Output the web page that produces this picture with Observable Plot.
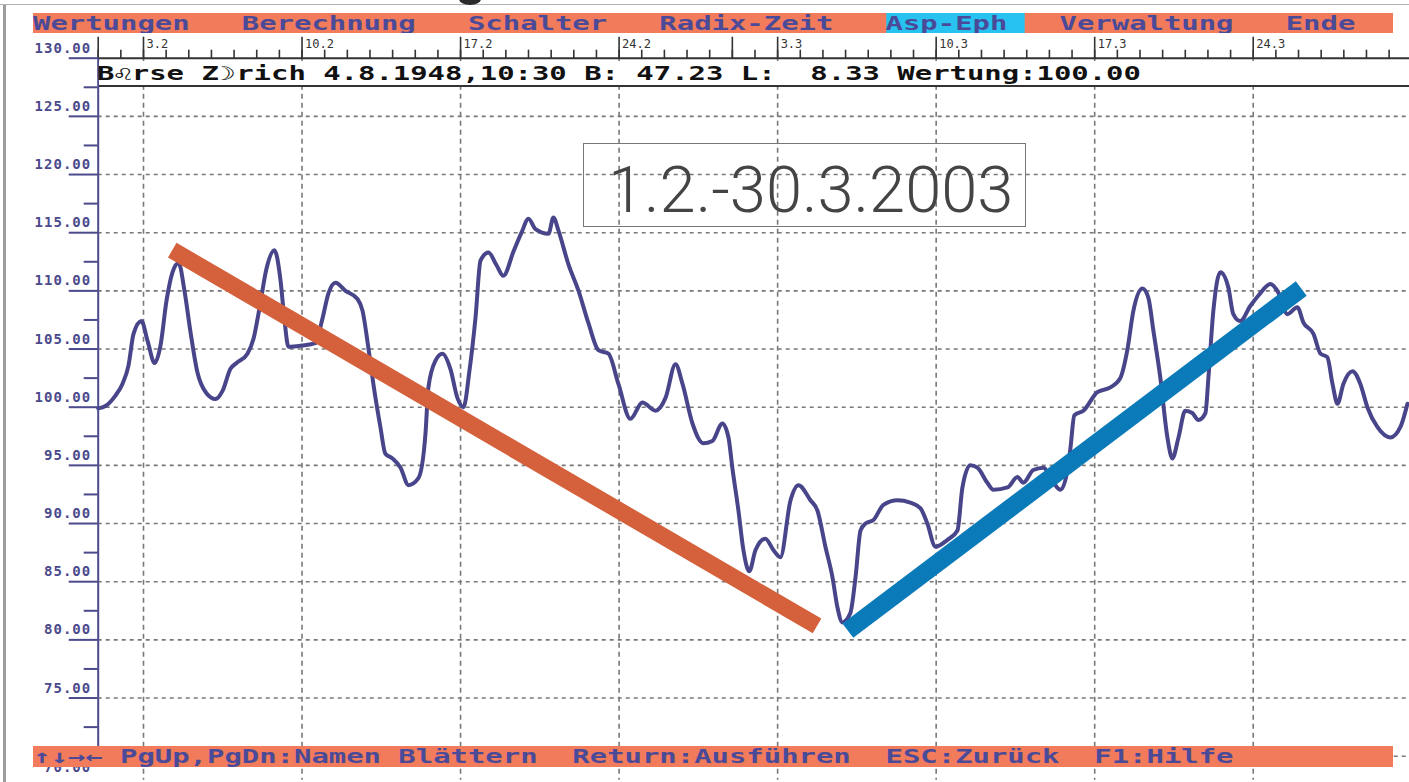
<!DOCTYPE html>
<html>
<head>
<meta charset="utf-8">
<script src="https://cdn.jsdelivr.net/npm/d3@7"></script>
<script src="https://cdn.jsdelivr.net/npm/@observablehq/plot@0.6"></script>
<style>
  html, body { margin: 0; padding: 0; background: #fff; }
  #wrap { position: relative; width: 1409px; height: 782px; overflow: hidden; background: #fff; }
  #wrap svg { position: absolute; left: 0; top: 0; }
  .ov { position: absolute; }
  .bar { background: #F27B5C; overflow: hidden; }
  .mono { position: absolute; left: 0; top: 0; white-space: pre; font-family: "DejaVu Sans Mono", monospace;
          font-size: 19px; transform: scaleX(1.521); transform-origin: 0 0; }
  .menu { color: #4B4A98; line-height: 20px; font-weight: bold; }
  .hl { background: #27C2F0; }
  .info { color: #111; font-weight: bold; line-height: 24px; }
  .title { border: 1px solid #777; box-sizing: border-box; font-family: "Roboto", "Open Sans", sans-serif;
           font-weight: 300; font-size: 65px; color: #444; line-height: 84px; padding-left: 24px; white-space: nowrap; }
  .title span { position: relative; top: 4px; }
  g[aria-label="y-axis tick label"] text { letter-spacing: 1px; }
</style>
</head>
<body>
<div id="wrap"></div>
<script>
// ---- data (day 0 = 1.2.2003) ----
const days = [0.0,0.32,0.76,1.07,1.34,1.56,1.91,2.18,2.49,2.75,
  3.02,3.28,3.55,3.81,4.08,4.38,4.78,5.18,5.49,5.84,
  6.11,6.59,6.86,7.12,7.43,7.78,8.05,8.23,8.40,8.98,
  9.59,9.90,10.17,10.48,10.92,11.45,11.67,11.93,12.15,12.46,
  12.68,12.99,13.35,13.70,14.14,14.45,14.58,14.89,15.20,15.55,
  15.86,16.13,16.39,16.66,16.88,17.23,17.59,17.89,18.34,18.69,
  19.00,19.31,19.88,20.10,20.32,20.76,21.21,21.65,22.09,22.53,
  22.97,23.50,24.03,24.61,25.05,25.49,25.80,26.24,26.72,27.12,
  27.56,27.83,28.00,28.27,28.49,28.75,29.02,29.46,29.82,30.12,
  30.57,30.92,31.45,31.76,32.11,32.42,32.64,32.86,33.21,33.44,
  33.66,33.88,34.23,34.67,35.29,35.86,36.31,36.61,36.97,37.50,
  37.94,38.16,38.51,38.82,39.26,39.53,40.15,40.59,40.85,41.29,
  41.74,42.18,42.49,42.80,42.93,43.10,43.50,44.12,44.69,45.13,
  45.44,45.71,46.11,46.37,46.59,46.90,47.21,47.43,47.70,48.00,
  48.31,48.58,48.89,49.02,49.24,49.55,49.90,50.12,50.43,50.87,
  51.23,51.76,52.07,52.51,52.95,53.21,53.66,53.97,54.27,54.50,
  54.72,54.98,55.38,55.73,56.04,56.48,57.06,57.50,57.81];
const values = [99.9,100.1,101.0,102.0,103.6,106.3,107.4,105.7,103.8,105.3,
  109.2,111.6,112.4,110.0,106.4,103.0,101.2,100.7,101.4,103.3,
  103.8,104.6,105.9,108.5,111.9,113.5,110.9,107.4,105.2,105.3,
  105.5,107.6,109.8,110.7,110.0,109.3,108.3,105.1,102.0,98.3,
  96.0,95.6,94.8,93.3,93.9,97.7,101.7,104.0,104.6,103.3,
  100.8,100.0,103.1,107.7,112.6,113.3,112.2,111.3,113.4,115.0,
  116.2,115.3,114.9,116.3,115.2,112.3,110.0,107.2,104.9,104.6,
  102.0,99.0,100.4,99.7,100.8,103.7,102.0,98.6,96.9,97.1,
  98.6,97.4,94.8,91.1,87.7,85.9,87.7,88.7,87.7,87.1,
  92.0,93.3,92.0,91.1,88.0,85.4,82.8,81.5,82.3,85.4,
  89.4,90.0,90.3,91.6,92.0,91.8,91.3,90.0,88.0,88.6,
  89.4,93.1,95.0,94.8,93.5,92.9,93.1,94.0,93.5,94.6,
  94.8,93.5,92.9,94.6,96.5,99.3,99.7,101.3,101.7,102.5,
  104.9,108.3,110.2,109.4,106.6,102.5,97.4,95.6,97.4,99.7,
  99.5,98.9,99.5,102.5,108.3,111.6,110.3,108.0,107.4,108.7,
  109.6,110.6,110.0,108.0,108.6,107.3,106.3,104.6,104.3,102.0,
  100.3,102.0,103.1,102.0,100.0,98.3,97.4,98.3,100.3];

const downTrendDays = [3.27, 31.74];
const downTrendValues = [113.5, 81.2];
const upTrendDays = [33.10, 53.12];
const upTrendValues = [80.8, 110.2];

const weekTickDays = [2, 9, 16, 23, 30, 37, 44, 51];
const weekTickLabels = ["3.2", "10.2", "17.2", "24.2", "3.3", "10.3", "17.3", "24.3"];
const monthStartDays = [0, 28];
const dayTicks = d3.range(0, 58);
const yMajor = d3.range(70, 131, 5);
const yMinor = d3.range(72.5, 130, 5);
const yGrid = d3.range(70, 126, 5);

const menuText = "Wertungen   Berechnung   Schalter   Radix-Zeit   ";
const menuHighlight = "Asp-Eph ";
const menuRest = "  Verwaltung   Ende";
const infoText = "B\u264Crse Z\u263Drich 4.8.1948,10:30 B: 47.23 L:  8.33 Wertung:100.00";
const helpText = "\u2191\u2193\u2192\u2190 PgUp,PgDn:Namen Bl\u00e4ttern  Return:Ausf\u00fchren  ESC:Zur\u00fcck  F1:Hilfe";
const titleText = "1.2.-30.3.2003";

// ---- build ----
const series = days.map((d, i) => ({day: d, value: values[i]}));
const downTrend = downTrendDays.map((d, i) => ({day: d, value: downTrendValues[i]}));
const upTrend = upTrendDays.map((d, i) => ({day: d, value: upTrendValues[i]}));
const labelOf = new Map(weekTickDays.map((d, i) => [d, weekTickLabels[i]]));

const axisColor = "#4B4A8C";
const gridColor = "#787878";
const mono = "DejaVu Sans Mono";

const chart = Plot.plot({
  width: 1409,
  height: 782,
  marginLeft: 97.7,
  marginRight: 0,
  marginTop: 57.7,
  marginBottom: 26.3,
  x: {domain: [0, 57.9], label: null},
  y: {domain: [70, 130], label: null},
  style: {background: "white", fontFamily: mono, overflow: "visible"},
  marks: [
    Plot.ruleY(yGrid, {stroke: gridColor, strokeWidth: 1.6, strokeDasharray: "4,4"}),
    Plot.ruleX(weekTickDays, {stroke: gridColor, strokeWidth: 1.6, strokeDasharray: "5,4", insetBottom: -24}),
    Plot.line(series, {x: "day", y: "value", stroke: "#48458A", strokeWidth: 4, curve: "monotone-x"}),
    Plot.line(downTrend, {x: "day", y: "value", stroke: "#D4613C", strokeWidth: 17, strokeLinecap: "butt"}),
    Plot.line(upTrend, {x: "day", y: "value", stroke: "#0B7AB8", strokeWidth: 18, strokeLinecap: "butt"}),
    // top ruler
    Plot.ruleY([130], {stroke: "#333", strokeWidth: 2}),
    Plot.axisX({anchor: "top", ticks: dayTicks, tickSize: 9, fill: "none", stroke: "#333", strokeWidth: 1.6, label: null}),
    Plot.axisX({anchor: "top", ticks: [...monthStartDays, ...weekTickDays], tickSize: 22, fill: "none", stroke: "#333", strokeWidth: 1.6, label: null}),
    Plot.axisX({anchor: "top", ticks: weekTickDays, tickSize: 0, tickPadding: 10, tickFormat: d => labelOf.get(d),
      textAnchor: "start", dx: 3, fill: "#333", fontSize: 12, fontFamily: mono, label: null}),
    // left axis
    Plot.ruleX([0], {stroke: axisColor, strokeWidth: 2}),
    Plot.axisY({ticks: yMajor, tickSize: 29, fill: "none", stroke: axisColor, strokeWidth: 2, label: null}),
    Plot.axisY({ticks: yMinor, tickSize: 14, fill: "none", stroke: axisColor, strokeWidth: 2, label: null}),
    Plot.axisY({ticks: yMajor.filter(v => v > 70), tickSize: 0, tickPadding: 7, dy: -10, tickFormat: v => v.toFixed(2),
      fill: axisColor, fontSize: 14, fontWeight: "bold", fontFamily: mono, label: null}),
    Plot.axisY({ticks: [70], tickSize: 0, tickPadding: 7, dy: 11, tickFormat: v => v.toFixed(2),
      fill: axisColor, fontSize: 14, fontWeight: "bold", fontFamily: mono, label: null})
  ]
});

const wrap = document.getElementById("wrap");
wrap.appendChild(chart);

function ov(cls, css, html) {
  const d = document.createElement("div");
  d.className = "ov " + cls;
  d.style.cssText = css;
  if (html != null) d.innerHTML = html;
  wrap.appendChild(d);
  return d;
}
const esc = s => s.replace(/&/g, "&amp;").replace(/</g, "&lt;");

// frame decorations
ov("", "left:0;top:4px;width:1409px;height:1px;background:#b4b4b4;");
ov("", "left:3px;top:5px;width:3px;height:777px;background:#9c9c9c;");
ov("", "left:459px;top:-7px;width:22px;height:12px;border-radius:50%;background:#2b2b2b;");

// menu bar
ov("bar", "left:33px;top:13px;width:1360px;height:20px;",
  `<div class="mono menu">${esc(menuText)}<span class="hl">${esc(menuHighlight)}</span>${esc(menuRest)}</div>`);

// info line
ov("", "left:99px;top:61px;width:1310px;height:24px;background:#fff;border-bottom:2px solid #333;",
  `<div class="mono info" style="left:-2px">${esc(infoText)}</div>`);

// bottom help bar
ov("bar", "left:33px;top:746px;width:1360px;height:21px;",
  `<div class="mono menu" style="line-height:21px">${esc(helpText)}</div>`);

// title box
ov("title", "left:583px;top:143px;width:443px;height:84px;", `<span>${esc(titleText)}</span>`);
</script>
</body>
</html>
